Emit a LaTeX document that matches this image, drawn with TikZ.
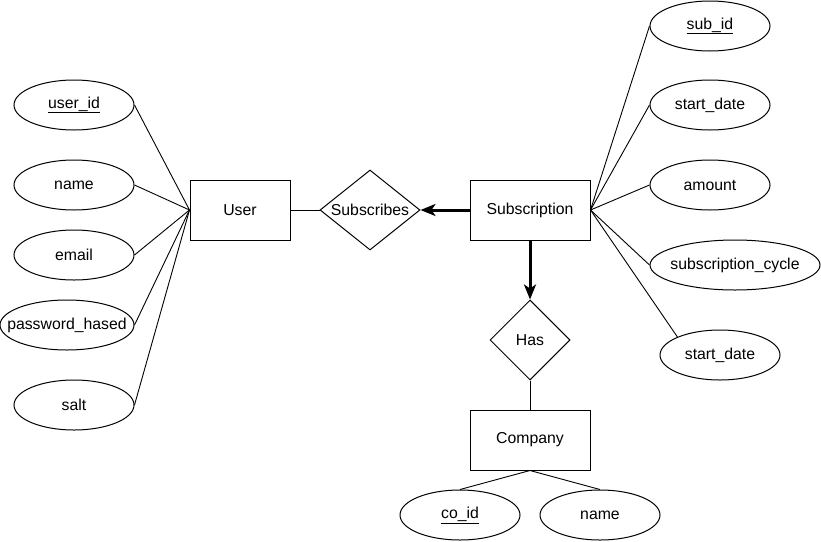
\documentclass[tikz,border=0pt]{standalone}
\usepackage{fontspec}
\setmainfont{Liberation Sans}
\usetikzlibrary{shapes.geometric,arrows.meta}
% attribute label set without width so the ellipse keeps its given size
\newcommand{\attrlabel}[1]{\makebox[0pt]{#1}}
\begin{document}
\begin{tikzpicture}[x=1pt,y=-1pt,
  every node/.style={font=\fontsize{15.8}{18}\selectfont, inner sep=0pt},
  entity/.style={draw, line width=1pt, rectangle, minimum width=#1, minimum height=60pt},
  entity/.default=120pt,
  attr/.style={draw, line width=1pt, ellipse, minimum width=#1, minimum height=50pt},
  attr/.default=120pt,
  rel/.style={draw, line width=1pt, diamond, aspect=1, minimum width=80pt, minimum height=80pt},
  link/.style={line width=0.9pt},
  strong/.style={line width=3pt, -{Stealth[length=15pt,width=12pt,inset=4pt]}}
]
\useasboundingbox[fill=white] (0,0) rectangle (821,541);

% entities
\node[entity=100pt] (user) at (240,210) {User};
\node[entity] (sub) at (530,210) {Subscription};
\node[entity] (co) at (530,440) {Company};

% relationships
\node[rel, minimum width=100pt, aspect=1.25] (subs) at (370,210) {Subscribes};
\node[rel] (has) at (530,340) {Has};

% user attributes
\node[attr] (uid) at (74,105) {\attrlabel{\underline{user\_id}}};
\node[attr] (uname) at (74,185) {\attrlabel{name}};
\node[attr] (email) at (74,255) {\attrlabel{email}};
\node[attr=134pt] (pwd) at (67,325) {\attrlabel{password\_hased}};
\node[attr] (salt) at (74,405) {\attrlabel{salt}};

% subscription attributes
\node[attr] (sid) at (710,26) {\attrlabel{\underline{sub\_id}}};
\node[attr] (sdate) at (710,105) {\attrlabel{start\_date}};
\node[attr] (amt) at (710,185) {\attrlabel{amount}};
\node[attr=170pt] (cyc) at (735,265) {\attrlabel{subscription\_cycle}};
\node[attr] (sdate2) at (720,355) {\attrlabel{start\_date}};

% company attributes
\node[attr] (cid) at (460,515) {\attrlabel{\underline{co\_id}}};
\node[attr] (cname) at (600,515) {\attrlabel{name}};

% connectors
\foreach \a in {uid,uname,email,pwd,salt}
  \draw[link] (\a.east) -- (user.west);
\foreach \a in {sid,sdate,amt,cyc}
  \draw[link] (\a.west) -- (sub.east);
\draw[link] (sdate2.157) -- (sub.east);
\draw[link] (user.east) -- (subs.west);
\draw[strong] (sub.west) -- (subs.east);
\draw[strong] (sub.south) -- (has.north);
\draw[link] (has.south) -- (co.north);
\draw[link] (co.south) -- (cid.north);
\draw[link] (co.south) -- (cname.north);
\end{tikzpicture}
\end{document}
